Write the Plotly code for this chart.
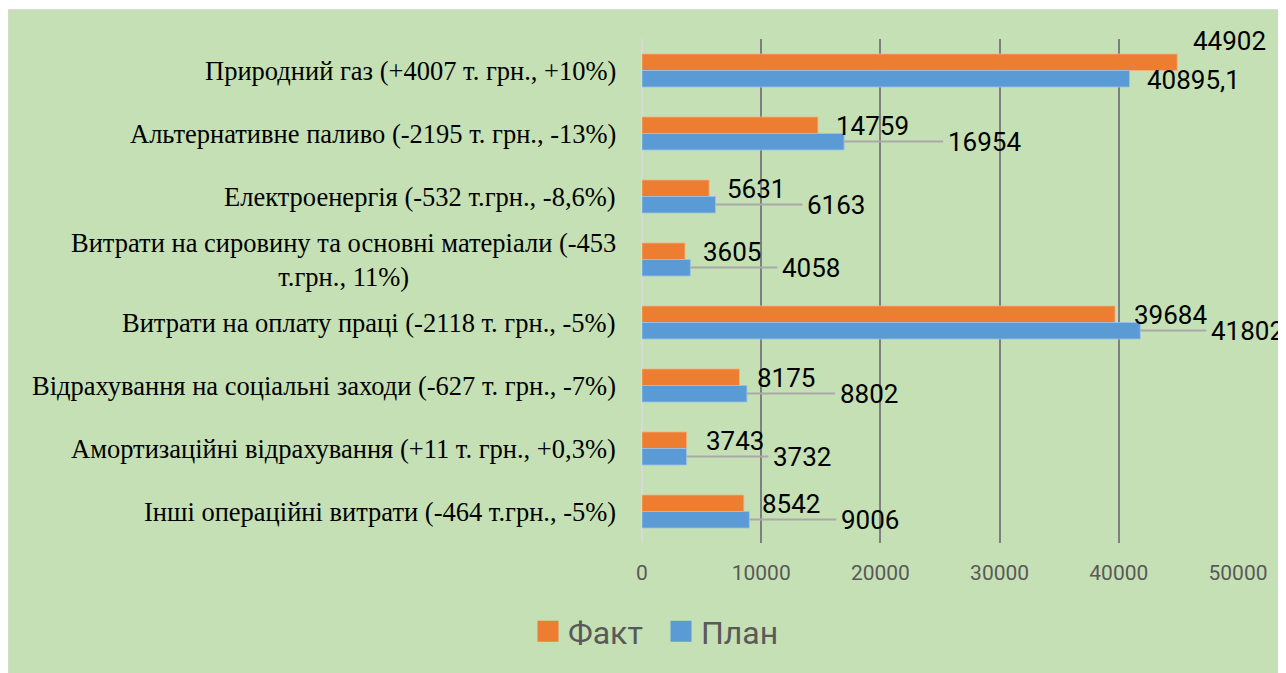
import plotly.graph_objects as go

categories = [
    "Природний газ (+4007 т. грн., +10%)",
    "Альтернативне паливо (-2195 т. грн., -13%)",
    "Електроенергія (-532 т.грн., -8,6%)",
    "Витрати на сировину та основні матеріали (-453<br>т.грн., 11%)",
    "Витрати на оплату праці (-2118 т. грн., -5%)",
    "Відрахування на соціальні заходи (-627 т. грн., -7%)",
    "Амортизаційні відрахування (+11 т. грн., +0,3%)",
    "Інші операційні витрати (-464 т.грн., -5%)",
]
fact = [44902, 14759, 5631, 3605, 39684, 8175, 3743, 8542]
plan = [40895.1, 16954, 6163, 4058, 41802, 8802, 3732, 9006]
x_ticks = [0, 10000, 20000, 30000, 40000, 50000]
series_names = ["Факт", "План"]

# label placement (pixel offsets, style only)
fact_dx = [14, 16, 16, 16, 17, 16, 17, 16]
fact_dy = [30, 8, 8, 8, 8, 8, 8, 8]
plan_dx = [16, 107, 95, 95, 74, 96, 90, 95]
plan_leader = [False, True, True, True, True, True, True, True]

ORANGE = "#ED7D31"
BLUE = "#5B9BD5"
GREEN = "#C5E0B4"
LABEL_FONT = dict(family="Roboto", size=26, color="#000000")

# figure pixel frame (page has 8px body margin)
W, H = 1278, 665
L, R, T, B = 634, 48, 31, 130
PW, PH = W - L - R, H - T - B

fig = go.Figure()
fig.add_trace(go.Bar(y=categories, x=fact, name=series_names[0], orientation="h",
                     marker=dict(color=ORANGE, line=dict(color="#F4B183", width=0.8)),
                     showlegend=False))
fig.add_trace(go.Bar(y=categories, x=plan, name=series_names[1], orientation="h",
                     marker=dict(color=BLUE, line=dict(color="#9DC3E6", width=0.8)),
                     showlegend=False))
# legend proxies
fig.add_trace(go.Scatter(x=[None], y=[None], mode="markers", name=series_names[0],
                         marker=dict(symbol="square", size=16, color=ORANGE,
                                     line=dict(color=ORANGE, width=5))))
fig.add_trace(go.Scatter(x=[None], y=[None], mode="markers", name=series_names[1],
                         marker=dict(symbol="square", size=16, color=BLUE,
                                     line=dict(color=BLUE, width=5))))

ann = []
for i, c in enumerate(categories):
    ann.append(dict(x=0, xref="paper", y=c, yref="y", text=c, showarrow=False,
                    xanchor="right", xshift=-24, align="center",
                    font=dict(family="Liberation Serif", size=26.5, color="#000000")))
    ann.append(dict(x=fact[i], y=c, xref="x", yref="y", text=str(fact[i]).replace(".", ","),
                    showarrow=False, xanchor="left", xshift=fact_dx[i], yshift=fact_dy[i],
                    font=LABEL_FONT))
    ptxt = ("%g" % plan[i]).replace(".", ",")
    if plan_leader[i]:
        ann.append(dict(x=plan[i], y=c, xref="x", yref="y", text=ptxt,
                        showarrow=True, arrowhead=0, arrowwidth=1.8, arrowcolor="#A9A9A9",
                        ax=plan_dx[i] - 8, ay=0, xanchor="left", standoff=0,
                        yshift=-8, borderpad=4,
                        font=LABEL_FONT))
    else:
        ann.append(dict(x=plan[i], y=c, xref="x", yref="y", text=ptxt,
                        showarrow=False, xanchor="left", xshift=plan_dx[i],
                        yshift=-9, font=LABEL_FONT))

fig.update_layout(
    width=W, height=H,
    margin=dict(l=L, r=R, t=T, b=B),
    paper_bgcolor="#FFFFFF",
    plot_bgcolor=GREEN,
    barmode="group", bargap=0.476, bargroupgap=0,
    annotations=ann,
    shapes=[dict(type="rect", xref="paper", yref="paper", layer="below",
                 x0=(0 - L) / PW, x1=(W + 20 - L) / PW,
                 y0=-(B + 20) / PH, y1=(PH + T - 1.5) / PH,
                 fillcolor=GREEN, line=dict(color="#D9D9D9", width=1))],
    legend=dict(orientation="h", x=(540 - 20 - L) / PW, xanchor="left",
                y=-(623.5 - T - PH) / PH, yanchor="middle",
                entrywidth=88,
                font=dict(family="Roboto", size=32, color="#595959"),
                bgcolor="rgba(0,0,0,0)"),
    xaxis=dict(range=[0, 50000], tickvals=x_ticks, ticktext=[str(v) for v in x_ticks],
               showgrid=True, gridcolor="#7F7F7F", gridwidth=2,
               zeroline=True, zerolinecolor="#D9D9D9", zerolinewidth=2,
               ticks="", ticklabelstandoff=15,
               tickfont=dict(family="Roboto", size=21, color="#595959"),
               fixedrange=True),
    yaxis=dict(autorange="reversed", showticklabels=False, showgrid=False,
               zeroline=False, ticks="", fixedrange=True),
)

fig.write_html("out.html")
